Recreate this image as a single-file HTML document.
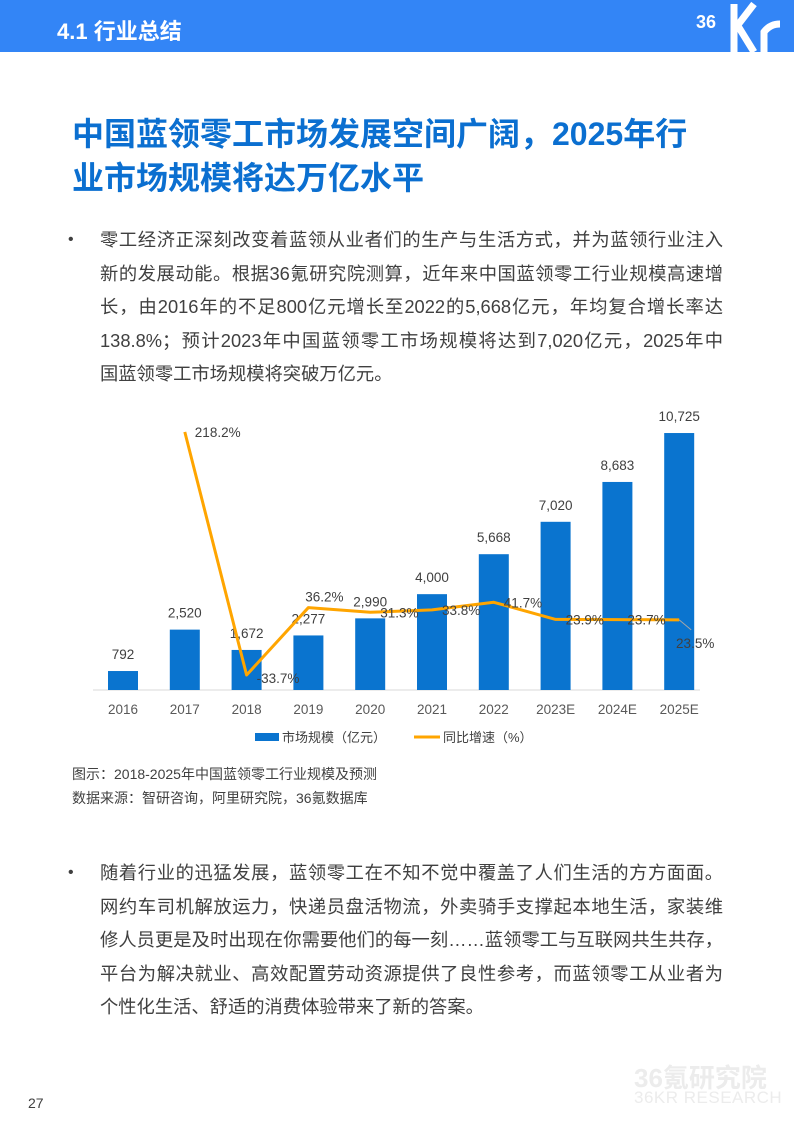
<!DOCTYPE html>
<html><head><meta charset="utf-8">
<style>
body{margin:0;width:794px;height:1123px;position:relative;background:#fff;font-family:"Liberation Sans","Noto Sans CJK SC",sans-serif;overflow:hidden}
.hdr{position:absolute;left:0;top:0;width:794px;height:52px;background:#3385f6}
.hdr .t{position:absolute;left:57px;top:14px;color:#fff;font-size:22px;font-weight:bold}
.logo{position:absolute;right:0;top:0;color:#fff;font-weight:bold}
h1{position:absolute;left:72px;top:112px;margin:0;font-size:32px;line-height:44px;color:#0b6fd0;font-weight:bold;width:700px;white-space:nowrap}
.p{position:absolute;left:100px;width:623px;font-size:18.3px;color:#404040}
.p div{height:33.5px;line-height:33.5px;text-align:justify;text-align-last:justify;white-space:nowrap}
.p div.l{text-align-last:left}
.b{position:absolute;left:68px;font-size:16px;color:#404040}
.cap{position:absolute;left:72px;font-size:14px;color:#404040}
</style></head><body>
<div class="hdr">
<div class="t">4.1 行业总结</div>
<svg class="logo" width="100" height="52"><text x="2" y="28" fill="#fff" font-size="18" font-family="Liberation Sans">36</text><path d="M40 4v48M40 30l20-26M44 26l16 26M70 52V32q6-8 16-8" stroke="#fff" stroke-width="7" fill="none"/></svg>
</div>
<h1>中国蓝领零工市场发展空间广阔，2025年行<br>业市场规模将达万亿水平</h1>
<div class="b" style="top:231px">•</div>
<div class="p" style="top:223px">
<div>零工经济正深刻改变着蓝领从业者们的生产与生活方式，并为蓝领行业注入</div>
<div>新的发展动能。根据36氪研究院测算，近年来中国蓝领零工行业规模高速增</div>
<div>长，由2016年的不足800亿元增长至2022的5,668亿元，年均复合增长率达</div>
<div>138.8%；预计2023年中国蓝领零工市场规模将达到7,020亿元，2025年中</div>
<div class="l">国蓝领零工市场规模将突破万亿元。</div>
</div>
<svg id="chart" style="position:absolute;left:0;top:390px" width="794" height="370"></svg>
<div class="cap" style="top:764px">图示：2018-2025年中国蓝领零工行业规模及预测</div>
<div class="cap" style="top:788px">数据来源：智研咨询，阿里研究院，36氪数据库</div>
<div class="b" style="top:864px">•</div>
<div class="p" style="top:856px">
<div>随着行业的迅猛发展，蓝领零工在不知不觉中覆盖了人们生活的方方面面。</div>
<div>网约车司机解放运力，快递员盘活物流，外卖骑手支撑起本地生活，家装维</div>
<div>修人员更是及时出现在你需要他们的每一刻……蓝领零工与互联网共生共存，</div>
<div>平台为解决就业、高效配置劳动资源提供了良性参考，而蓝领零工从业者为</div>
<div class="l">个性化生活、舒适的消费体验带来了新的答案。</div>
</div>
<div style="position:absolute;left:634px;top:1058px;font-size:26px;font-weight:bold;color:#ececec">36氪研究院</div>
<div style="position:absolute;left:634px;top:1088px;font-size:17px;color:#ececec;letter-spacing:0.5px">36KR RESEARCH</div>
<div style="position:absolute;left:28px;top:1095px;font-size:14px;color:#404040">27</div>
<script>
const categories=["2016","2017","2018","2019","2020","2021","2022","2023E","2024E","2025E"];
const sizes=[792,2520,1672,2277,2990,4000,5668,7020,8683,10725];
const sizeLabels=["792","2,520","1,672","2,277","2,990","4,000","5,668","7,020","8,683","10,725"];
const growth=[null,218.2,-33.7,36.2,31.3,33.8,41.7,23.9,23.7,23.5];
const svg=document.getElementById('chart');const NS='http://www.w3.org/2000/svg';
const OY=390,base=690-OY;
const x=i=>123+i*61.8;
const yB=v=>base-v*0.02396;
const yL=v=>(642.5-OY)-v*0.965;
function mk(t,a,p){const e=document.createElementNS(NS,t);for(const k in a)e.setAttribute(k,a[k]);(p||svg).appendChild(e);return e;}
const ax=mk('line',{x1:93,x2:700,y1:base,y2:base,stroke:'#d9d9d9','stroke-width':1});

sizes.forEach((v,i)=>{
 const r=mk('rect',{x:x(i)-15,y:yB(v),width:30,height:base-yB(v),fill:'#0a74cf'});
 
 
 const t=mk('text',{x:x(i),y:yB(v)-12,'text-anchor':'middle','font-size':13.5,fill:'#404040'});t.textContent=sizeLabels[i];
 
 
 const c=mk('text',{x:x(i),y:base+24,'text-anchor':'middle','font-size':13.5,fill:'#595959'});c.textContent=categories[i];
 
 
});
let d='';growth.forEach((g,i)=>{if(g==null)return;d+=(d?'L':'M')+x(i)+' '+yL(g);});
const pl=mk('path',{d:d,fill:'none',stroke:'#ffa500','stroke-width':3,'stroke-linejoin':'round'});


growth.forEach((g,i)=>{if(g==null)return;
 let tx=x(i)+10,ty=yL(g)+5,anc='start';
 if(i==3){tx=x(i)+16;ty=yL(g)-6;anc='middle';}
 if(i==2){ty=yL(g)+8;}
 if(i==9){tx=x(i)+16;ty=yL(g)+28;anc='middle';mk('line',{x1:x(i),y1:yL(g),x2:x(i)+12,y2:yL(g)+10,stroke:'#a6a6a6'});}
 const t=mk('text',{x:tx,y:ty,'text-anchor':anc,'font-size':13.5,fill:'#404040'});t.textContent=g.toFixed(1)+'%';
 
 
});
const lg=mk('g',{});
mk('rect',{x:255,y:343,width:24,height:8,fill:'#0a74cf'},lg);
const l1=mk('text',{x:282,y:352,'font-size':13,fill:'#404040'},lg);l1.textContent='市场规模（亿元）';
mk('line',{x1:414,x2:440,y1:347,y2:347,stroke:'#ffa500','stroke-width':3},lg);
const l2=mk('text',{x:443,y:352,'font-size':13,fill:'#404040'},lg);l2.textContent='同比增速（%）';
</script>
</body></html>
